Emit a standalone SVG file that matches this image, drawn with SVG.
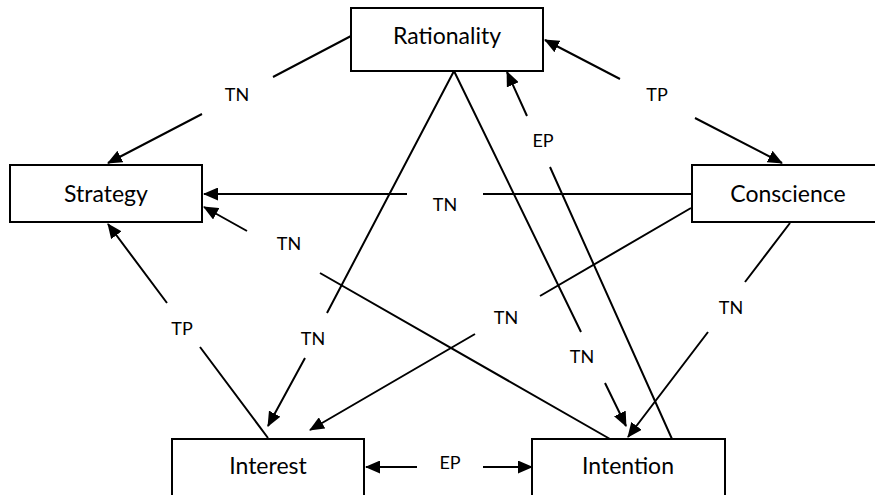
<svg xmlns="http://www.w3.org/2000/svg" width="875" height="495" viewBox="0 0 875 495">
  <style>
    .box { fill: #ffffff; stroke: #000000; stroke-width: 2; }
    .name { font-family: Lato, "Open Sans", sans-serif; font-size: 23px; fill: #000000; text-anchor: middle; }
    .edge { fill: none; stroke: #000000; stroke-width: 2; }
    .lbl { font-family: Lato, "Open Sans", sans-serif; font-size: 18px; fill: #000000; text-anchor: middle; }
  </style>
  <defs>
    <marker id="arrow" viewBox="0 0 15 13" refX="14" refY="6.5" markerWidth="15" markerHeight="13" markerUnits="userSpaceOnUse" orient="auto-start-reverse">
      <path d="M0,0 L15,6.5 L0,13 z" fill="#000000"/>
    </marker>
  </defs>

  <rect width="875" height="495" fill="#ffffff"/>

  <!-- connectors, each broken where its label sits -->
  <g id="connectors">
    <!-- Rationality -> Strategy -->
    <path class="edge" d="M351,36 L273,77 M202,114 L108,163" marker-end="url(#arrow)"/>
    <text class="lbl" x="237" y="101">TN</text>
    <!-- Rationality <-> Conscience -->
    <path class="edge" d="M545,40 L620,79 M695,118 L782,163" marker-start="url(#arrow)" marker-end="url(#arrow)"/>
    <text class="lbl" x="657" y="101">TP</text>
    <!-- Conscience -> Strategy -->
    <path class="edge" d="M692,194 L483,194 M407,194 L204,194" marker-end="url(#arrow)"/>
    <text class="lbl" x="445" y="211">TN</text>
    <!-- Intention -> Strategy -->
    <path class="edge" d="M610,439 L320,273 M247,231 L204,207" marker-end="url(#arrow)"/>
    <text class="lbl" x="289" y="250">TN</text>
    <!-- Interest -> Strategy -->
    <path class="edge" d="M268,438 L200,347 M167,303 L108,224" marker-end="url(#arrow)"/>
    <text class="lbl" x="182" y="335">TP</text>
    <!-- Rationality -> Interest -->
    <path class="edge" d="M454,71 L327,313 M305,358 L268,426" marker-end="url(#arrow)"/>
    <text class="lbl" x="313" y="345">TN</text>
    <!-- Rationality -> Intention -->
    <path class="edge" d="M454,71 L581,332 M605,383 L626,426" marker-end="url(#arrow)"/>
    <text class="lbl" x="582" y="363">TN</text>
    <!-- Conscience -> Intention -->
    <path class="edge" d="M790,223 L745,282 M708,332 L628,437" marker-end="url(#arrow)"/>
    <text class="lbl" x="731" y="314">TN</text>
    <!-- Conscience -> Interest -->
    <path class="edge" d="M691,208 L540,296 M475,334 L310,430" marker-end="url(#arrow)"/>
    <text class="lbl" x="506" y="324">TN</text>
    <!-- Intention -> Rationality -->
    <path class="edge" d="M672,439 L550,167 M527,116 L507,72" marker-end="url(#arrow)"/>
    <text class="lbl" x="543" y="147">EP</text>
    <!-- Interest <-> Intention -->
    <path class="edge" d="M366,467 L417,467 M483,467 L532,467" marker-start="url(#arrow)" marker-end="url(#arrow)"/>
    <text class="lbl" x="450" y="469">EP</text>
  </g>

  <g id="rationality">
    <rect class="box" x="351" y="8" width="192" height="63"/>
    <text class="name" x="447" y="44">Rationality</text>
  </g>
  <g id="strategy">
    <rect class="box" x="10" y="165" width="192" height="57"/>
    <text class="name" x="106" y="202">Strategy</text>
  </g>
  <g id="conscience">
    <rect class="box" x="692" y="165" width="192" height="57"/>
    <text class="name" x="788" y="202">Conscience</text>
  </g>
  <g id="interest">
    <rect class="box" x="172" y="439" width="192" height="70"/>
    <text class="name" x="268" y="474">Interest</text>
  </g>
  <g id="intention">
    <rect class="box" x="532" y="439" width="193" height="70"/>
    <text class="name" x="628" y="474">Intention</text>
  </g>
</svg>
